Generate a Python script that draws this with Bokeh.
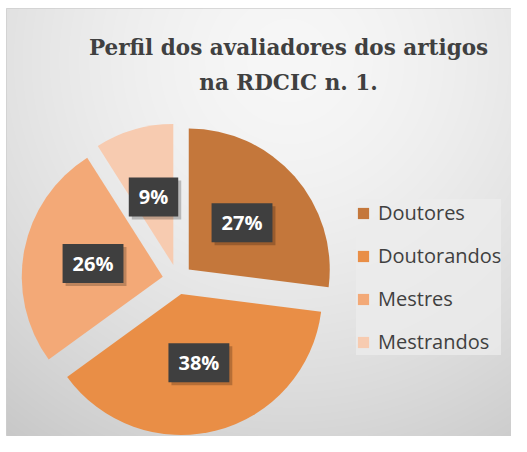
import numpy as np
from bokeh.plotting import figure
from bokeh.models import ColumnDataSource, Legend, LegendItem, Range1d
from bokeh.core.properties import value
from bokeh.embed import file_html
from bokeh.resources import INLINE

# ---- data ----
categories = ["Doutores", "Doutorandos", "Mestres", "Mestrandos"]
shares = [27, 38, 26, 9]
pct_labels = ["27%", "38%", "26%", "9%"]
colors = ["#C4773B", "#E98E46", "#F3A977", "#F7CBB0"]
title_lines = ["Perfil dos avaliadores dos artigos", "na RDCIC n. 1."]

# ---- layout constants (pixels) ----
FIG_W, FIG_H = 511, 436
ML, MT = 6, 8                      # white margin left / top
W, H = FIG_W - ML, FIG_H - MT      # frame size
CX, CY, R, EXPLODE, LABEL_R = 171, 157, 141, 15, 86

p = figure(width=FIG_W, height=FIG_H, x_range=Range1d(0, W), y_range=Range1d(0, H),
           x_axis_type=None, y_axis_type=None, output_backend="svg",
           toolbar_location=None, min_border=0, min_border_left=ML,
           min_border_top=MT, min_border_right=0, min_border_bottom=0)
p.grid.visible = False
p.border_fill_color = "white"
p.outline_line_color = "#cfcfcf"
p.background_fill_color = "#dcdcdc"

# background radial gradient (decoration)
yy, xx = np.mgrid[0:H, 0:W]
sy = H - yy - 0.5
d = np.sqrt((xx - 282.0) ** 2 + (sy - 52.0) ** 2)
t = np.clip(d / 470.0, 0, 1) ** 1.6
g = (247 - 47 * t).astype(np.uint32)
img = (255 << 24) | (g << 16) | (g << 8) | g
p.image_rgba(image=[img.astype(np.uint32)], x=0, y=0, dw=W, dh=H)

# ---- pie ----
frac = np.array(shares, dtype=float) / sum(shares)
cum = np.concatenate([[0.0], np.cumsum(frac)])
start = np.pi / 2 - 2 * np.pi * cum[:-1]
end = np.pi / 2 - 2 * np.pi * cum[1:]
mid = (start + end) / 2

src = ColumnDataSource(dict(
    cat=categories, color=colors, start=start, end=end,
    x=CX + EXPLODE * np.cos(mid), y=CY + EXPLODE * np.sin(mid),
    lx=CX + LABEL_R * np.cos(mid), ly=CY + LABEL_R * np.sin(mid),
    lab=pct_labels,
))

wedges = p.wedge(x="x", y="y", radius=R, start_angle="start", end_angle="end",
                 direction="clock", fill_color="color", line_color=None, source=src)

pad = dict(left=10, right=10, top=6, bottom=6)
# label shadows
p.text(x="lx", y="ly", text="lab", source=src, x_offset=3, y_offset=3,
       text_align="center", text_baseline="middle",
       text_font=value("Open Sans"), text_font_style="bold", text_font_size="20px",
       text_alpha=0, background_fill_color="black", background_fill_alpha=0.22,
       padding=pad)
# labels
p.text(x="lx", y="ly", text="lab", source=src,
       text_align="center", text_baseline="middle",
       text_font=value("Open Sans"), text_font_style="bold", text_font_size="20px",
       text_color="white", background_fill_color="#3f3f3f", padding=pad)

# ---- title ----
tsrc = ColumnDataSource(dict(x=[282, 282], y=[389, 354], t=title_lines))
p.text(x="x", y="y", text="t", source=tsrc, text_align="center",
       text_baseline="alphabetic", text_font=value("DejaVu Serif"),
       text_font_style="bold", text_font_size="21.5px", text_color="#404040")

# ---- legend ----
items = [LegendItem(label=c, renderers=[wedges], index=i) for i, c in enumerate(categories)]
legend = Legend(items=items, location=(350, 81), orientation="vertical",
                label_text_font="Open Sans", label_text_font_size="20px",
                label_text_color="#404040", glyph_width=14, glyph_height=14,
                label_standoff=8, spacing=16, padding=6, margin=0,
                background_fill_color="#ececec", background_fill_alpha=0.75,
                border_line_color=None)
p.add_layout(legend)

open("out.html", "w").write(file_html(p, INLINE))
